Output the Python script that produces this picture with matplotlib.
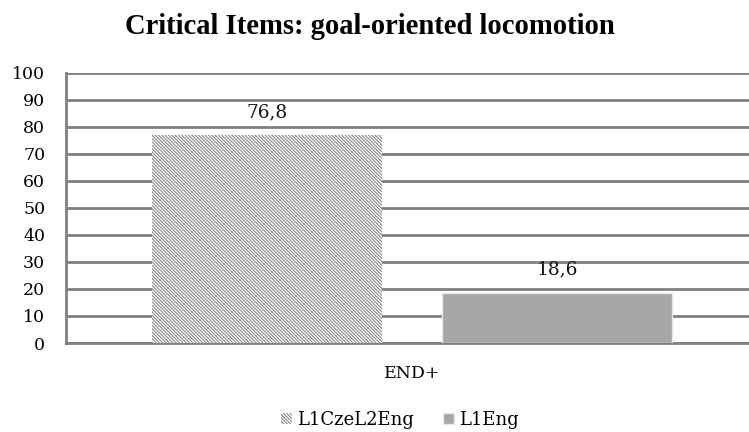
import matplotlib
matplotlib.use("Agg")
import matplotlib.pyplot as plt
import numpy as np

categories = ["END+"]
series_names = ["L1CzeL2Eng", "L1Eng"]
values_cze = [76.8]
values_eng = [18.6]
value_labels_cze = ["76,8"]
value_labels_eng = ["18,6"]
y_ticks = [0, 10, 20, 30, 40, 50, 60, 70, 80, 90, 100]

plt.rcParams['hatch.linewidth'] = 0.7
serif = ["DejaVu Serif"]
title_font = ["Liberation Serif", "DejaVu Serif"]

fig = plt.figure(figsize=(7.49, 4.32), dpi=100)
ax = fig.add_axes([66/749, 89/432, 1 - 66/749, (343 - 72.5)/432])

grid_col = "#808080"
x = np.arange(len(categories))
w = 0.79
b1 = ax.bar(x - 0.5, values_cze, width=w, color="white", edgecolor="#7a7a7a",
            hatch="\\" * 10, linewidth=0, label=series_names[0], zorder=3)
b2 = ax.bar(x + 0.5, values_eng, width=w, color="#a6a6a6", edgecolor="#e8e8e8",
            linewidth=1.0, label=series_names[1], zorder=3)

for rect, lab in zip(b1, value_labels_cze):
    ax.text(rect.get_x() + rect.get_width()/2, rect.get_height() + 5.3, lab,
            ha="center", va="bottom", fontsize=13.3, family=serif, color="#111111")
for rect, lab in zip(b2, value_labels_eng):
    ax.text(rect.get_x() + rect.get_width()/2, rect.get_height() + 5.3, lab,
            ha="center", va="bottom", fontsize=13.3, family=serif, color="#111111")

ax.set_ylim(0, 100)
ax.set_xlim(-1.193, 1.162)
ax.set_yticks(y_ticks)
ax.set_yticklabels([str(t) for t in y_ticks], family=serif, fontsize=12.5)
ax.set_xticks(x)
ax.set_xticklabels(categories, family=serif, fontsize=12.5)
ax.tick_params(axis="y", length=0, pad=15)
ax.tick_params(axis="x", length=0, pad=16)

ax.yaxis.grid(True, color=grid_col, linewidth=2, zorder=0)
ax.set_axisbelow(True)
for s in ["top", "right"]:
    ax.spines[s].set_visible(False)
ax.spines["left"].set_color(grid_col)
ax.spines["left"].set_linewidth(2)
ax.spines["bottom"].set_color(grid_col)
ax.spines["bottom"].set_linewidth(2)

fig.text(370/749, 1 - 27/432, "Critical Items: goal-oriented locomotion",
         ha="center", va="center", fontsize=20.6, fontweight="bold", family=title_font)

leg = fig.legend(handles=[b1, b2], labels=series_names, loc="center",
                 bbox_to_anchor=(400/749, 1 - 420/432), ncol=2, frameon=False,
                 prop={"family": serif, "size": 13}, handlelength=0.6,
                 handleheight=0.6, handletextpad=0.3, columnspacing=1.6)

fig.savefig("out.png", dpi=100)
